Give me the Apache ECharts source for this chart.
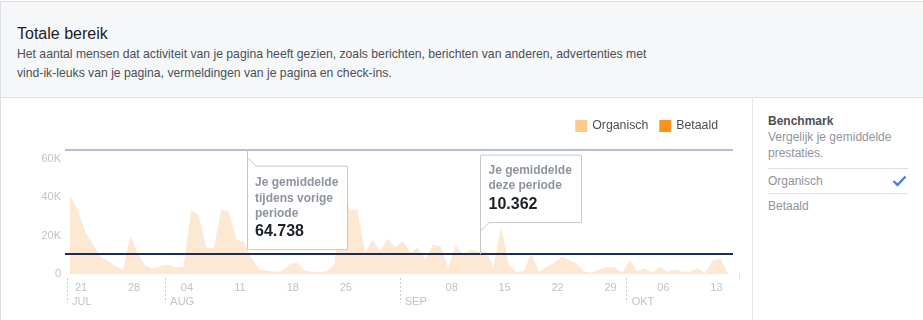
<!DOCTYPE html>
<html>
<head>
<meta charset="utf-8">
<script src="https://cdn.jsdelivr.net/npm/echarts@6/dist/echarts.min.js"></script>
<style>
  html,body{margin:0;padding:0;background:#fff;}
  body{width:923px;height:320px;position:relative;overflow:hidden;font-family:"Liberation Sans",Arial,Helvetica,sans-serif;}
  #frame{position:absolute;left:0;top:1px;width:940px;height:330px;border:1px solid #dddfe2;box-sizing:border-box;}
  #header{position:absolute;left:1px;top:2px;width:940px;height:95px;background:#f6f7f9;border-bottom:1px solid #dddfe2;}
  #title{position:absolute;left:16px;top:22px;font-size:16px;color:#1d2129;line-height:20px;}
  #desc{position:absolute;left:16px;top:43px;font-size:12.2px;color:#4b4f56;line-height:19px;width:720px;}
  #divider{position:absolute;left:752px;top:97px;width:1px;height:230px;background:#e5e6e9;}
  #chart{position:absolute;left:0;top:98px;width:752px;height:222px;}
  #panel{position:absolute;left:768px;top:113px;width:140px;font-size:12px;line-height:16px;color:#90949c;}
  #panel .hd{font-weight:bold;color:#4b4f56;}
  #panel .row{position:relative;border-top:1px solid #dddfe2;height:24px;line-height:24px;}
  #panel svg{position:absolute;right:1px;top:6px;}
</style>
</head>
<body>
<div id="frame"></div>
<div id="header">
  <div id="title">Totale bereik</div>
  <div id="desc">Het aantal mensen dat activiteit van je pagina heeft gezien, zoals berichten, berichten van anderen, advertenties met<br>vind-ik-leuks van je pagina, vermeldingen van je pagina en check-ins.</div>
</div>
<div id="divider"></div>
<div id="chart"></div>
<div id="panel">
  <div class="hd">Benchmark</div>
  <div style="margin-bottom:7px">Vergelijk je gemiddelde<br>prestaties.</div>
  <div class="row">Organisch<svg width="15" height="12" viewBox="0 0 15 12"><polyline points="1.5,6 5.5,10 13.5,1.5" fill="none" stroke="#4a7ee6" stroke-width="2.4"/></svg></div>
  <div class="row">Betaald</div>
</div>
<script>
// ---- data ----
const days = [
 'jul 20','jul 21','jul 22','jul 23','jul 24','jul 25','jul 26','jul 27','jul 28','jul 29','jul 30','jul 31',
 'aug 01','aug 02','aug 03','aug 04','aug 05','aug 06','aug 07','aug 08','aug 09','aug 10','aug 11','aug 12','aug 13','aug 14','aug 15','aug 16','aug 17','aug 18','aug 19','aug 20','aug 21','aug 22','aug 23','aug 24','aug 25','aug 26','aug 27','aug 28','aug 29','aug 30','aug 31',
 'sep 01','sep 02','sep 03','sep 04','sep 05','sep 06','sep 07','sep 08','sep 09','sep 10','sep 11','sep 12','sep 13','sep 14','sep 15','sep 16','sep 17','sep 18','sep 19','sep 20','sep 21','sep 22','sep 23','sep 24','sep 25','sep 26','sep 27','sep 28','sep 29','sep 30',
 'okt 01','okt 02','okt 03','okt 04','okt 05','okt 06','okt 07','okt 08','okt 09','okt 10','okt 11','okt 12','okt 13','okt 14','okt 15'
];
const organisch = [
 41000,33500,22000,15600,9000,6900,4300,2400,20000,10400,4200,2900,
 4200,4800,3400,3700,33000,31000,14000,13300,33600,32500,18000,16800,8200,2400,1700,1200,1500,5000,6000,1900,1000,1000,1500,5300,53500,33000,34000,11000,17700,12000,18400,
 13800,17000,11200,13700,7300,15500,14400,3200,15000,9500,12800,11600,11600,3800,25000,4700,1200,1500,10700,1200,3800,5500,9000,7300,5500,1200,700,2400,3500,3500,
 700,7300,1500,2700,700,3800,1200,2400,1200,1200,3000,400,7300,7800,0
];
const betaald = [];
const prevAvg = 64738;
const curAvg = 10362;
const dayTickIdx = [1,8,15,22,29,36,50,57,64,71,78,85];
const monthTickPos = [-0.4,12.6,43.6,73.6];
const monthLabels = ['JUL','AUG','SEP','OKT'];
const yTicks = [0,20000,40000,60000];

const FONT = '"Liberation Sans", Arial, Helvetica, sans-serif';
const fmtNL = v => String(v).replace(/\B(?=(\d{3})+(?!\d))/g, '.');

const chart = echarts.init(document.getElementById('chart'), null, {renderer:'canvas'});
const option = {
  animation:false,
  textStyle:{fontFamily:FONT},
  legend:{
    data:['Organisch','Betaald'], right:29, top:17, icon:'rect',
    itemWidth:12, itemHeight:12, itemGap:11,
    textStyle:{fontSize:12.3,color:'#4b4f56',fontFamily:FONT}
  },
  grid:{left:65,right:19,top:41.5,bottom:46,containLabel:false},
  xAxis:[{
    type:'value', min:-0.66, max:87.66,
    axisLine:{show:false}, axisTick:{show:false}, splitLine:{show:false},
    axisLabel:{
      customValues:dayTickIdx, margin:8, fontSize:11, color:'#bec2c9', fontFamily:FONT,
      padding:[0,0,0,7],
      formatter:v => days[Math.round(v)].split(' ')[1]
    }
  },{
    type:'value', min:-0.66, max:87.66, position:'bottom', offset:4,
    axisLine:{show:false}, splitLine:{show:false},
    axisTick:{show:true, customValues:monthTickPos, length:25, lineStyle:{color:'#ccd0d5',type:[2,2],width:1}},
    axisLabel:{
      customValues:monthTickPos, margin:18, fontSize:11, color:'#bec2c9', fontFamily:FONT,
      align:'left', padding:[0,0,0,5],
      formatter:v => monthLabels[monthTickPos.indexOf(v)] || ''
    }
  }],
  yAxis:{
    type:'value', min:0, max:70000, interval:20000,
    axisLine:{show:false}, axisTick:{show:false}, splitLine:{show:false},
    axisLabel:{
      margin:4, fontSize:11, color:'#bec2c9', fontFamily:FONT,
      formatter:v => yTicks.indexOf(v) < 0 ? '' : (v === 0 ? '0' : (v/1000)+'K')
    }
  },
  series:[{
    name:'Organisch', type:'line', stack:'bereik',
    data:organisch.map((v,i)=>[i,v]),
    showSymbol:false, symbol:'none', lineStyle:{width:0},
    itemStyle:{color:'#ffc88c'},
    areaStyle:{color:'#fde9d3',opacity:1},
    z:2,
    markLine:{
      silent:true, symbol:'none', label:{show:false}, z:5,
      data:[
        {yAxis:prevAvg, lineStyle:{color:'#b3bdd6',width:2,type:'solid'}},
        {yAxis:curAvg, lineStyle:{color:'#1f2c4c',width:2,type:'solid'}}
      ]
    }
  },{
    name:'Betaald', type:'line', stack:'bereik', data:betaald,
    showSymbol:false, lineStyle:{width:0}, itemStyle:{color:'#f7931e'},
    areaStyle:{color:'#f7931e'}
  }]
};
chart.setOption(option);

// callout annotations anchored on the average lines
const a = chart.convertToPixel({xAxisIndex:0,yAxisIndex:0},[23.35, prevAvg]);
const b = chart.convertToPixel({xAxisIndex:0,yAxisIndex:0},[54.15, curAvg]);
const ax = Math.round(a[0])+0.5, ay = a[1];
const bx = Math.round(b[0])+0.5, by = b[1];
const boxStyle = {fill:'rgba(255,255,255,0.88)', stroke:'#c4c7cc', lineWidth:1};
const small = {fontSize:12, fontWeight:'bold', fill:'#8d949e', fontFamily:FONT};
const big = {fontSize:16, fontWeight:'bold', fill:'#1d2129', fontFamily:FONT};
function txt(x,y,t,s){return {type:'text',x:x,y:y,z:20,style:Object.assign({text:t,verticalAlign:'middle',align:'left'},s)};}
const endTick = chart.convertToPixel({xAxisIndex:0,yAxisIndex:0},[88.45, 0]);
chart.setOption({graphic:[
  {type:'polygon', z:15, shape:{points:[
    [ax,ay],[ax,ay+100],[ax+100,ay+100],[ax+100,ay+16.5],[ax+8.5,ay+16.5],[ax,ay+8]
  ]}, style:boxStyle},
  txt(ax+7.5, ay+33, 'Je gemiddelde', small),
  txt(ax+7.5, ay+49, 'tijdens vorige', small),
  txt(ax+7.5, ay+64.5, 'periode', small),
  txt(ax+7.5, ay+82, fmtNL(prevAvg), big),
  {type:'polygon', z:15, shape:{points:[
    [bx,by],[bx,by-99],[bx+101,by-99],[bx+101,by-31.5],[bx+8.5,by-31.5],[bx,by-23]
  ]}, style:boxStyle},
  txt(bx+8, by-83.5, 'Je gemiddelde', small),
  txt(bx+8, by-68, 'deze periode', small),
  txt(bx+8, by-49.5, fmtNL(curAvg), big),
  {type:'line', z:10, shape:{x1:Math.round(endTick[0])+0.5, y1:endTick[1], x2:Math.round(endTick[0])+0.5, y2:endTick[1]+5}, style:{stroke:'#dddfe2',lineWidth:1}}
]});
</script>
</body>
</html>
